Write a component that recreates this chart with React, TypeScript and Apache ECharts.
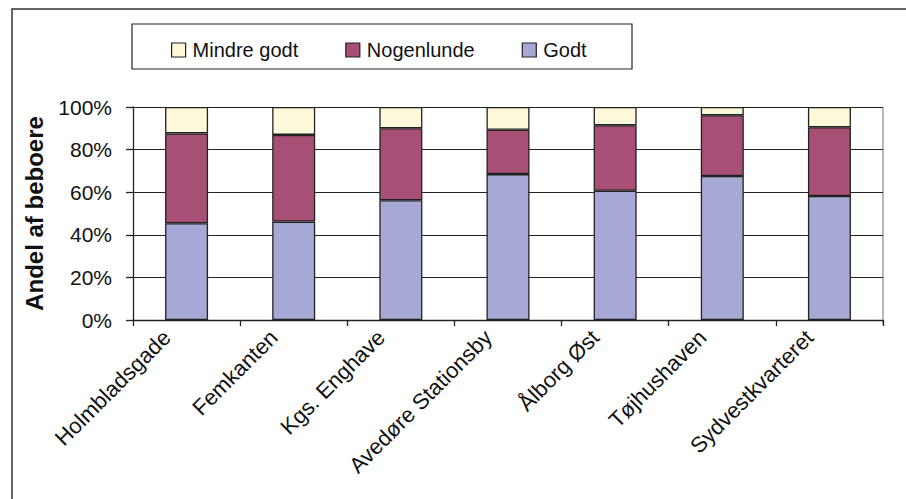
import React, { useEffect, useRef } from "react";
import * as echarts from "echarts";

const categories = [
  "Holmbladsgade",
  "Femkanten",
  "Kgs. Enghave",
  "Avedøre Stationsby",
  "Ålborg Øst",
  "Tøjhushaven",
  "Sydvestkvarteret",
];
const godt = [45.4, 46.2, 56.2, 68.5, 60.7, 67.6, 58.2];
const nogenlunde = [42.2, 40.7, 33.8, 20.8, 30.7, 28.5, 32.3];
const mindreGodt = [12.4, 13.1, 10.0, 10.7, 8.6, 3.9, 9.5];
const yTicks = [0, 20, 40, 60, 80, 100];

const FONT = 'Arial, "Liberation Sans", sans-serif';

export default function App() {
  const ref = useRef<HTMLDivElement>(null);
  useEffect(() => {
    document.body.style.margin = "0";
    if (!ref.current) return;
    const chart = echarts.init(ref.current, null, { renderer: "svg" });
    const barStyle = (color: string) => ({
      color,
      borderColor: "#222",
      borderWidth: 1.3,
    });
    chart.setOption({
      animation: false,
      backgroundColor: "#fff",
      textStyle: { fontFamily: FONT },
      graphic: [
        {
          type: "rect",
          shape: { x: 12, y: 9, width: 1000, height: 700 },
          style: { fill: "none", stroke: "#333", lineWidth: 1.5 },
          silent: true,
        },
        {
          type: "rect",
          shape: { x: 132, y: 24, width: 500, height: 45 },
          style: { fill: "none", stroke: "#222", lineWidth: 1.2 },
          silent: true,
        },
        {
          type: "line",
          shape: { x1: 883, y1: 107, x2: 883, y2: 325 },
          style: { stroke: "#888", lineWidth: 1.2 },
          silent: true,
        },
      ],
      legend: {
        left: 171,
        top: 40,
        itemWidth: 14,
        itemHeight: 14,
        itemGap: 47,
        padding: 0,
        icon: "rect",
        textStyle: { fontSize: 20, color: "#111", fontFamily: FONT, padding: [0, 0, 0, 2] },
        itemStyle: { borderColor: "#222", borderWidth: 1.2 },
        data: ["Mindre godt", "Nogenlunde", "Godt"],
      },
      grid: { left: 133, right: 23, top: 107, bottom: 179, containLabel: false },
      xAxis: {
        type: "category",
        data: categories,
        boundaryGap: true,
        axisLine: { show: true, lineStyle: { color: "#222", width: 1.3 } },
        axisTick: { show: true, length: 6, lineStyle: { color: "#222", width: 1.3 } },
        axisLabel: {
          rotate: 45,
          fontSize: 22,
          color: "#111",
          fontFamily: FONT,
          margin: -6,
          padding: [0, 28, 0, 0],
          interval: 0,
        },
      },
      yAxis: {
        type: "value",
        min: yTicks[0],
        max: yTicks[yTicks.length - 1],
        interval: 20,
        name: "Andel af beboere",
        nameLocation: "middle",
        nameGap: 87,
        nameTextStyle: { fontSize: 24, fontWeight: "bold", color: "#111", fontFamily: FONT },
        axisLine: { show: true, lineStyle: { color: "#222", width: 1.3 } },
        axisTick: { show: true, length: 7, lineStyle: { color: "#222", width: 1.3 } },
        axisLabel: {
          fontSize: 21,
          color: "#111",
          fontFamily: FONT,
          margin: 21,
          formatter: (v: number) => `${v}%`,
        },
        splitLine: { show: true, lineStyle: { color: "#222", width: 1.2 } },
      },
      series: [
        {
          name: "Godt",
          type: "bar",
          stack: "total",
          barWidth: 43,
          data: godt,
          itemStyle: barStyle("#a6a8d6"),
        },
        {
          name: "Nogenlunde",
          type: "bar",
          stack: "total",
          barWidth: 43,
          data: nogenlunde,
          itemStyle: barStyle("#a84f76"),
        },
        {
          name: "Mindre godt",
          type: "bar",
          stack: "total",
          barWidth: 43,
          data: mindreGodt,
          itemStyle: barStyle("#fcf8d9"),
        },
      ],
    });
    return () => chart.dispose();
  }, []);
  return <div ref={ref} style={{ width: 906, height: 499 }} />;
}
